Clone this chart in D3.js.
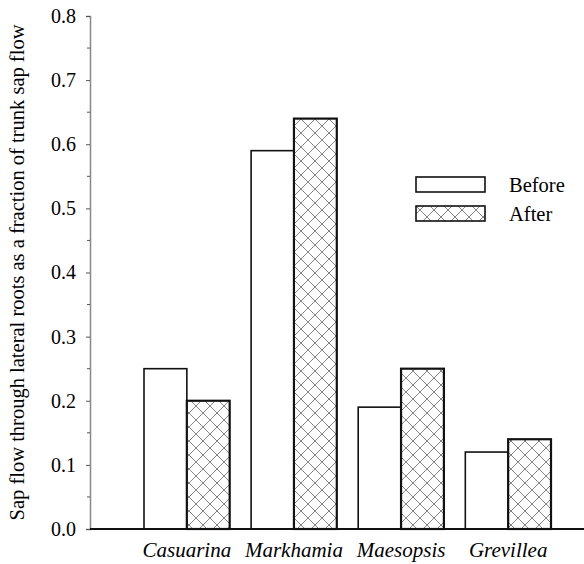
<!DOCTYPE html>
<html><head><meta charset="utf-8">
<script src="https://cdn.jsdelivr.net/npm/d3@7"></script>
<style>body{margin:0;background:#fff}</style>
</head><body>
<script>
const categories = ["Casuarina","Markhamia","Maesopsis","Grevillea"];
const seriesNames = ["Before","After"];
const before = [0.25,0.59,0.19,0.12];
const after = [0.20,0.64,0.25,0.14];
const yTicks = [0.0,0.1,0.2,0.3,0.4,0.5,0.6,0.7,0.8];
const yMinorTicks = [0.05,0.15,0.25,0.35,0.45,0.55,0.65,0.75];

const FONT='"Liberation Serif", "Times New Roman", Times';
const W=584,H=564;
const svg=d3.select("body").append("svg").attr("width",W).attr("height",H)
  .attr("font-family","Liberation Serif").style("font-family",FONT);
const defs=svg.append("defs");
const pat=defs.append("pattern").attr("id","hatch").attr("patternUnits","userSpaceOnUse")
  .attr("width",14).attr("height",14);
pat.append("rect").attr("width",14).attr("height",14).attr("fill","#fff");
pat.append("path").attr("d","M0,0L14,14M14,0L0,14").attr("stroke","#777").attr("stroke-width",0.9);

const x0=90, x1=584, yTop=16, yBot=529;
const y=d3.scaleLinear().domain([0,0.8]).range([yBot,yTop]);
const xg=d3.scaleBand().domain(categories).range([144,551]).paddingInner(0.2).paddingOuter(0);
const xs=d3.scaleBand().domain(seriesNames).range([0,xg.bandwidth()]);

// bars
const data=categories.map((c,i)=>({c,vals:[before[i],after[i]]}));
const g=svg.append("g");
data.forEach(d=>{
  d.vals.forEach((v,j)=>{
    g.append("rect")
      .attr("x",xg(d.c)+xs(seriesNames[j]))
      .attr("y",y(v))
      .attr("width",xs.bandwidth())
      .attr("height",yBot-y(v))
      .attr("fill",j===0?"#fff":"url(#hatch)")
      .attr("stroke","#111")
      .attr("stroke-width",j===0?1.6:2.2);
  });
});

// y axis
const ya=svg.append("g").attr("transform",`translate(${x0},0)`);
ya.call(d3.axisLeft(y).tickValues(yTicks).tickFormat(d3.format(".1f")).tickSize(4).tickPadding(10));
ya.attr("font-family",null).attr("font-size",null);
ya.selectAll(".tick text").attr("font-size",20).attr("fill","#000").style("font-family",FONT);
ya.select(".domain").attr("stroke","#888").attr("stroke-width",1.5);
ya.selectAll(".tick line").attr("stroke","#555");
ya.selectAll(".minor").data(yMinorTicks).enter().append("line").attr("class","minor")
  .attr("x1",-3).attr("x2",0).attr("y1",d=>y(d)).attr("y2",d=>y(d)).attr("stroke","#555");

// x axis
svg.append("line").attr("x1",x0).attr("x2",x1).attr("y1",yBot).attr("y2",yBot).attr("stroke","#111").attr("stroke-width",1.8);
const xa=svg.append("g").attr("transform",`translate(0,${yBot})`)
  .call(d3.axisBottom(xg).tickSize(0).tickPadding(13));
xa.attr("font-family",null).attr("font-size",null);
xa.select(".domain").remove();
xa.selectAll(".tick text").attr("font-size",21).attr("font-style","italic").attr("fill","#000").style("font-family",FONT);

// y label
svg.append("text").attr("transform",`translate(24,${(yTop+yBot)/2}) rotate(-90)`)
  .attr("text-anchor","middle").attr("font-size",20.5).style("font-family",FONT)
  .text("Sap flow through lateral roots as a fraction of trunk sap flow");

// legend
const lg=svg.append("g");
seriesNames.forEach((s,i)=>{
  lg.append("rect").attr("x",416).attr("y",177+i*29).attr("width",69).attr("height",15)
    .attr("fill",i===0?"#fff":"url(#hatch)").attr("stroke","#111").attr("stroke-width",1.6);
  lg.append("text").attr("x",509).attr("y",192+i*29).attr("font-size",20.5).style("font-family",FONT).text(s);
});
</script>
</body></html>
